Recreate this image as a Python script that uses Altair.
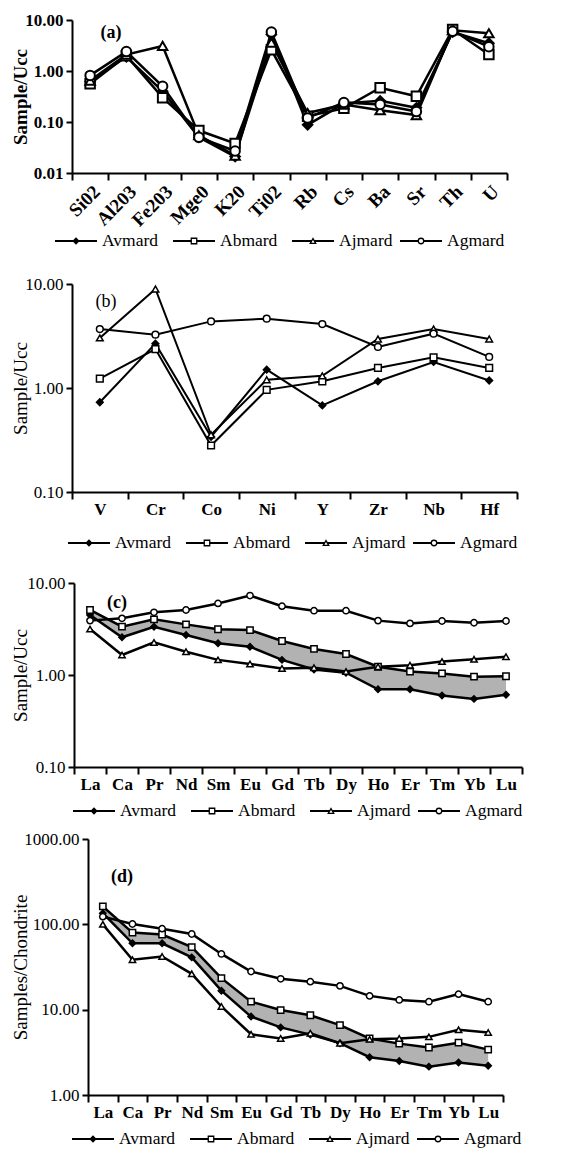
import altair as alt
import pandas as pd

FONT = "Liberation Serif"
SERIES = ["Avmard", "Abmard", "Ajmard", "Agmard"]
SHAPES = ["diamond", "square", "triangle-up", "circle"]
FILLS = ["black", "white", "white", "white"]

# ---------------- data ----------------
cats_a = ["Si02", "Al203", "Fe203", "Mge0", "K20", "Ti02", "Rb", "Cs", "Ba", "Sr", "Th", "U"]
avmard_a = [0.62, 1.9, 0.40, 0.050, 0.021, 5.2, 0.088, 0.23, 0.26, 0.19, 5.8, 3.5]
abmard_a = [0.56, 2.0, 0.30, 0.068, 0.038, 2.6, 0.13, 0.185, 0.47, 0.32, 6.5, 2.1]
ajmard_a = [0.65, 2.1, 3.1, 0.055, 0.022, 3.6, 0.15, 0.22, 0.17, 0.137, 6.3, 5.5]
agmard_a = [0.82, 2.4, 0.50, 0.050, 0.027, 5.8, 0.12, 0.24, 0.22, 0.16, 6.0, 3.0]

cats_b = ["V", "Cr", "Co", "Ni", "Y", "Zr", "Nb", "Hf"]
avmard_b = [0.73, 2.67, 0.34, 1.50, 0.68, 1.16, 1.78, 1.18]
abmard_b = [1.23, 2.37, 0.28, 0.96, 1.16, 1.56, 1.97, 1.56]
ajmard_b = [3.03, 8.95, 0.355, 1.20, 1.31, 2.96, 3.69, 2.96]
agmard_b = [3.69, 3.26, 4.37, 4.64, 4.12, 2.48, 3.33, 1.99]

cats_ree = ["La", "Ca", "Pr", "Nd", "Sm", "Eu", "Gd", "Tb", "Dy", "Ho", "Er", "Tm", "Yb", "Lu"]
avmard_c = [4.49, 2.57, 3.35, 2.72, 2.21, 2.03, 1.46, 1.15, 1.06, 0.70, 0.70, 0.60, 0.55, 0.61]
abmard_c = [5.09, 3.35, 4.03, 3.55, 3.14, 3.08, 2.34, 1.92, 1.69, 1.23, 1.09, 1.04, 0.96, 0.97]
ajmard_c = [3.16, 1.65, 2.26, 1.79, 1.46, 1.32, 1.18, 1.20, 1.09, 1.23, 1.28, 1.40, 1.48, 1.58]
agmard_c = [3.90, 4.13, 4.80, 5.09, 6.00, 7.30, 5.60, 5.00, 5.00, 3.90, 3.64, 3.86, 3.70, 3.86]

avmard_d = [135, 60, 60, 41, 16.7, 8.3, 6.2, 5.1, 4.05, 2.77, 2.5, 2.15, 2.4, 2.2]
abmard_d = [162, 80, 76, 54, 23.4, 12.4, 9.9, 8.6, 6.6, 4.6, 4.0, 3.6, 4.1, 3.4]
ajmard_d = [100, 38.5, 42, 26.3, 10.9, 5.15, 4.6, 5.3, 4.05, 4.5, 4.6, 4.8, 5.8, 5.4]
agmard_d = [123, 101, 89, 77, 45, 28, 23, 21.3, 19.0, 14.5, 13.0, 12.4, 15.2, 12.4]

# ---------------- layout (canvas pixels) ----------------
W, H = 569, 1154
TITLE_CX = 20


def long_df(cats, vals):
    rows = []
    for s, arr in zip(SERIES, vals):
        for i, (c, v) in enumerate(zip(cats, arr)):
            rows.append({"el": c, "idx": i, "series": s, "v": v})
    return pd.DataFrame(rows)


def shape_enc():
    return alt.Shape("series:N", scale=alt.Scale(domain=SERIES, range=SHAPES), legend=None)


def fill_enc():
    return alt.Fill("series:N", scale=alt.Scale(domain=SERIES, range=FILLS), legend=None)


def panel(cats, vals, ydom, yvals, left, right, top, bottom, ytitle, tag, tag_xy,
          bold, tag_bold, lw, lw_light, msize, mstroke, angle, band, xfs):
    df = long_df(cats, vals)
    weight = "bold" if bold else "normal"
    x = alt.X(
        "el:N", sort=cats, bandPosition=0.5,
        scale=alt.Scale(type="band", paddingInner=0, paddingOuter=0, range=[left, right]),
        axis=alt.Axis(title=None, orient="bottom", offset=-(H - bottom), tickBand="extent",
                      labelAngle=angle, labelFont=FONT,
                      labelFontSize=xfs, labelFontWeight="bold", labelColor="black",
                      domainColor="black", domainWidth=2, tickColor="black", tickWidth=2,
                      tickSize=7, labelPadding=2, grid=False),
    )
    yscale = alt.Scale(type="log", domain=ydom, nice=False, range=[bottom, top])
    yaxis = alt.Axis(values=yvals, format=".2f", title=ytitle, orient="left", offset=-left,
                     titleFont=FONT, titleFontSize=19, titleFontWeight=weight, titleColor="black",
                     titleAngle=270, titleAlign="center", titleBaseline="middle",
                     titleX=TITLE_CX - left, titleY=(top + bottom) / 2,
                     labelFont=FONT, labelFontSize=17, labelFontWeight=weight,
                     labelColor="black", domainColor="black", domainWidth=2,
                     tickColor="black", tickWidth=2, tickSize=6, labelPadding=3,
                     grid=False)
    y = alt.Y("v:Q", scale=yscale, axis=yaxis)
    layers = []
    if band:
        wide = pd.DataFrame({"el": cats, "Avmard": vals[0], "Abmard": vals[1]})
        layers.append(
            alt.Chart(wide).mark_area(color="#b2b2b2", opacity=1).encode(
                x=x, y=alt.Y("Avmard:Q", scale=yscale, axis=yaxis), y2="Abmard:Q")
        )
    lw_map = alt.StrokeWidth("series:N",
                             scale=alt.Scale(domain=SERIES, range=[lw, lw, lw_light, lw_light]),
                             legend=None)
    layers.append(
        alt.Chart(df).mark_line(color="black").encode(
            x=x, y=y, detail="series:N", order="idx:Q", strokeWidth=lw_map)
    )
    layers.append(
        alt.Chart(df).mark_point(filled=True, size=msize, stroke="black",
                                 strokeWidth=mstroke, opacity=1).encode(
            x=x, y=y, shape=shape_enc(), fill=fill_enc())
    )
    layers.append(
        alt.Chart(pd.DataFrame({"t": [tag]})).mark_text(
            font=FONT, fontSize=18, fontWeight="bold" if tag_bold else "normal",
            color="black", align="center", baseline="middle").encode(
            x=alt.value(tag_xy[0]), y=alt.value(tag_xy[1]), text="t:N")
    )
    return alt.layer(*layers)


LEG_OFFSETS = [0, 118, 237, 345]


def legend(start, yc):
    d = pd.DataFrame({"series": SERIES, "i": list(range(4))})
    base = alt.Chart(d).transform_calculate(
        x0=f"{start} + [{','.join(map(str, LEG_OFFSETS))}][datum.i]"
    ).transform_calculate(
        x1="datum.x0 + 42", xm="datum.x0 + 21", xt="datum.x0 + 47"
    )
    xs = alt.Scale(domain=[0, W], range=[0, W], nice=False, zero=False)
    rule = base.mark_rule(color="black", strokeWidth=2).encode(
        x=alt.X("x0:Q", scale=xs, axis=None), x2="x1:Q", y=alt.value(yc))
    pts = base.mark_point(filled=True, size=30, stroke="black", strokeWidth=1.3, opacity=1).encode(
        x=alt.X("xm:Q", scale=xs, axis=None), y=alt.value(yc), shape=shape_enc(), fill=fill_enc())
    txt = base.mark_text(font=FONT, fontSize=17.5, color="black", align="left",
                         baseline="middle").encode(
        x=alt.X("xt:Q", scale=xs, axis=None), y=alt.value(yc), text="series:N")
    return alt.layer(rule, pts, txt)


pa = panel(cats_a, [avmard_a, abmard_a, ajmard_a, agmard_a], [0.01, 10], [0.01, 0.1, 1, 10],
           72, 507, 20, 173, "Sample/Ucc", "(a)", (111, 33), True, True, 2.5, 2.5, 90, 2, -45, False, 19)
pb = panel(cats_b, [avmard_b, abmard_b, ajmard_b, agmard_b], [0.1, 10], [0.1, 1, 10],
           72, 517, 284, 492, "Sample/Ucc", "(b)", (106, 302), False, False, 2, 2, 45, 1.5, 0, False, 17)
pc = panel(cats_ree, [avmard_c, abmard_c, ajmard_c, agmard_c], [0.1, 10], [0.1, 1, 10],
           74, 522, 583, 767, "Sample/Ucc", "(c)", (117, 603), False, True, 2.5, 1.5, 40, 1.5, 0, True, 17)
pd_ = panel(cats_ree, [avmard_d, abmard_d, ajmard_d, agmard_d], [1, 1000], [1, 10, 100, 1000],
            88, 503, 839, 1095, "Samples/Chondrite", "(d)", (122, 877), False, True, 2.5, 1.5, 40, 1.5, 0, True, 17)

chart = alt.layer(
    pa, legend(55, 241),
    pb, legend(68, 543),
    pc, legend(73, 811),
    pd_, legend(72, 1139),
).resolve_scale(
    x="independent", y="independent", strokeWidth="independent"
).properties(
    width=W, height=H, padding=0, autosize=alt.AutoSizeParams(type="none"),
    background="white",
).configure_view(strokeWidth=0)

chart.save("out.html", embed_options={"renderer": "svg", "actions": False})
